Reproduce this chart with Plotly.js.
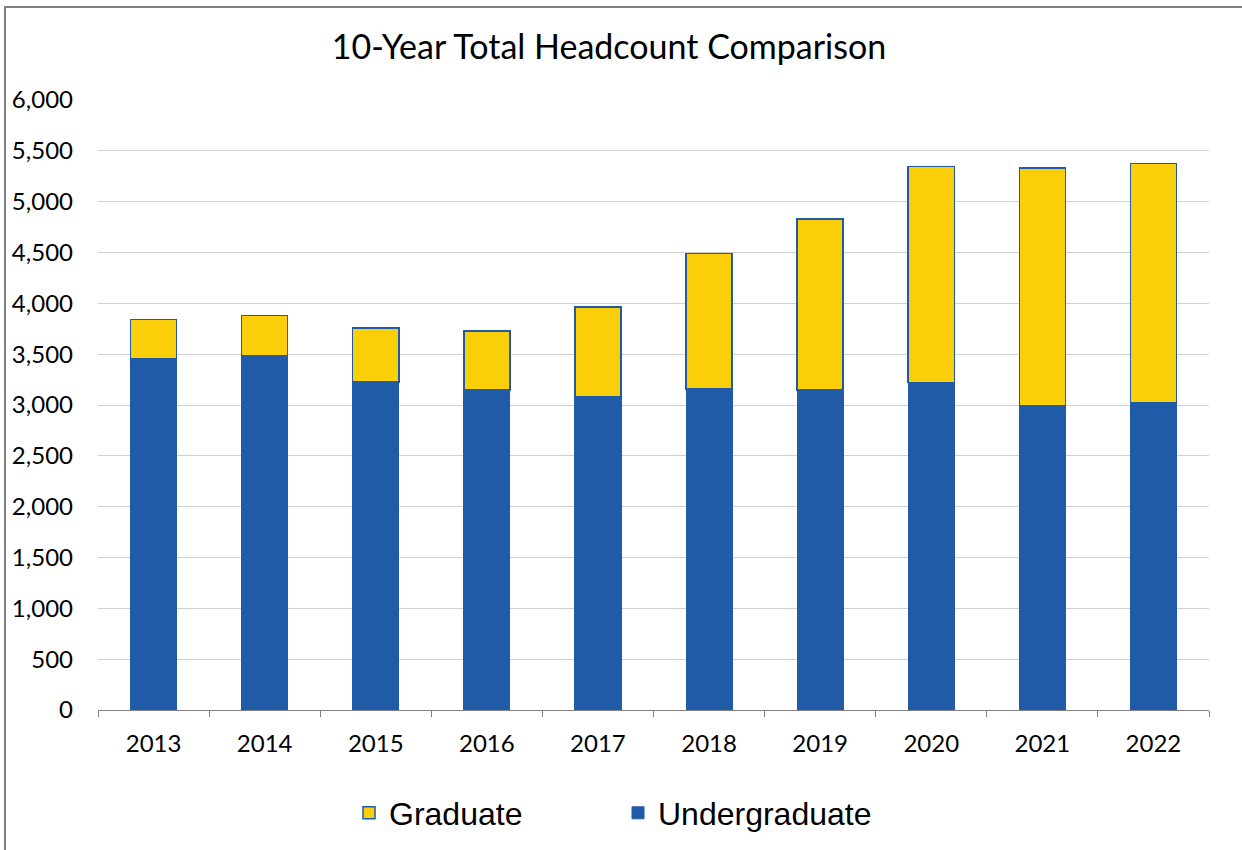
<!DOCTYPE html>
<html>
<head>
<meta charset="utf-8">
<script src="https://cdn.plot.ly/plotly-3.0.1.min.js"></script>
<style>
  html, body { margin: 0; padding: 0; background: #ffffff; }
  #chart { width: 1242px; height: 850px; }
</style>
</head>
<body>
<div id="chart"></div>
<script>
const years = ["2013", "2014", "2015", "2016", "2017", "2018", "2019", "2020", "2021", "2022"];
const undergraduate = [3452, 3482, 3226, 3147, 3079, 3157, 3147, 3219, 2997, 3023];
const graduate = [389, 398, 531, 581, 885, 1335, 1685, 2129, 2334, 2354];
const yTickVals = [0, 500, 1000, 1500, 2000, 2500, 3000, 3500, 4000, 4500, 5000, 5500, 6000];
const yTickText = ["0", "500", "1,000", "1,500", "2,000", "2,500", "3,000", "3,500", "4,000", "4,500", "5,000", "5,500", "6,000"];

const blue = "#1F5BA6";
const yellow = "#FACF0A";

const traces = [
  {
    type: "bar",
    name: "Undergraduate",
    x: years,
    y: undergraduate,
    marker: { color: blue, line: { color: blue, width: 1 } }
  },
  {
    type: "bar",
    name: "Graduate",
    x: years,
    y: graduate,
    marker: { color: yellow, line: { color: blue, width: 1.5 } }
  }
];

const W = 1242, H = 850, L = 98, R = 33, T = 100, B = 140;
const pw = W - L - R, ph = H - T - B;
function px(x) { return (x - L) / pw; }
function py(y) { return (H - B - y) / ph; }

const layout = {
  width: W,
  height: H,
  paper_bgcolor: "#ffffff",
  plot_bgcolor: "#ffffff",
  margin: { l: L, r: R, t: T, b: B, autoexpand: false },
  barmode: "stack",
  bargap: 0.585,
  title: {
    text: "10-Year Total Headcount Comparison",
    font: { family: "Lato, sans-serif", size: 34, color: "#000000" },
    x: 609 / W,
    xanchor: "center",
    y: 1 - 47 / H,
    yanchor: "middle"
  },
  xaxis: {
    type: "category",
    automargin: false,
    showgrid: false,
    showline: true,
    linecolor: "#808080",
    linewidth: 1,
    ticks: "outside",
    tickson: "boundaries",
    ticklen: 6,
    tickcolor: "#808080",
    tickfont: { family: "Lato, sans-serif", size: 24, color: "#000000" },
    ticklabelstandoff: 12,
    zeroline: false
  },
  yaxis: {
    range: [0, 6000],
    automargin: false,
    tickvals: yTickVals,
    ticktext: yTickText,
    showgrid: true,
    gridcolor: "#d0d0d0",
    gridwidth: 1,
    showline: false,
    zeroline: false,
    ticks: "",
    tickfont: { family: "Lato, sans-serif", size: 24, color: "#000000" },
    ticklabelstandoff: 24
  },
  showlegend: true,
  legend: {
    orientation: "h",
    traceorder: "reversed",
    x: px(349),
    xanchor: "left",
    y: py(813),
    yanchor: "middle",
    font: { family: "Liberation Sans, Arial, sans-serif", size: 32, color: "#000000" },
    entrywidth: 224,
    entrywidthmode: "pixels",
    bgcolor: "rgba(0,0,0,0)"
  },
  shapes: [
    {
      type: "rect",
      xref: "paper",
      yref: "paper",
      x0: px(5),
      x1: px(1260),
      y0: py(870),
      y1: py(7),
      line: { color: "#7f7f7f", width: 2 },
      fillcolor: "rgba(0,0,0,0)",
      layer: "below"
    }
  ]
};

Plotly.newPlot("chart", traces, layout, { displayModeBar: false, staticPlot: true });
</script>
</body>
</html>
